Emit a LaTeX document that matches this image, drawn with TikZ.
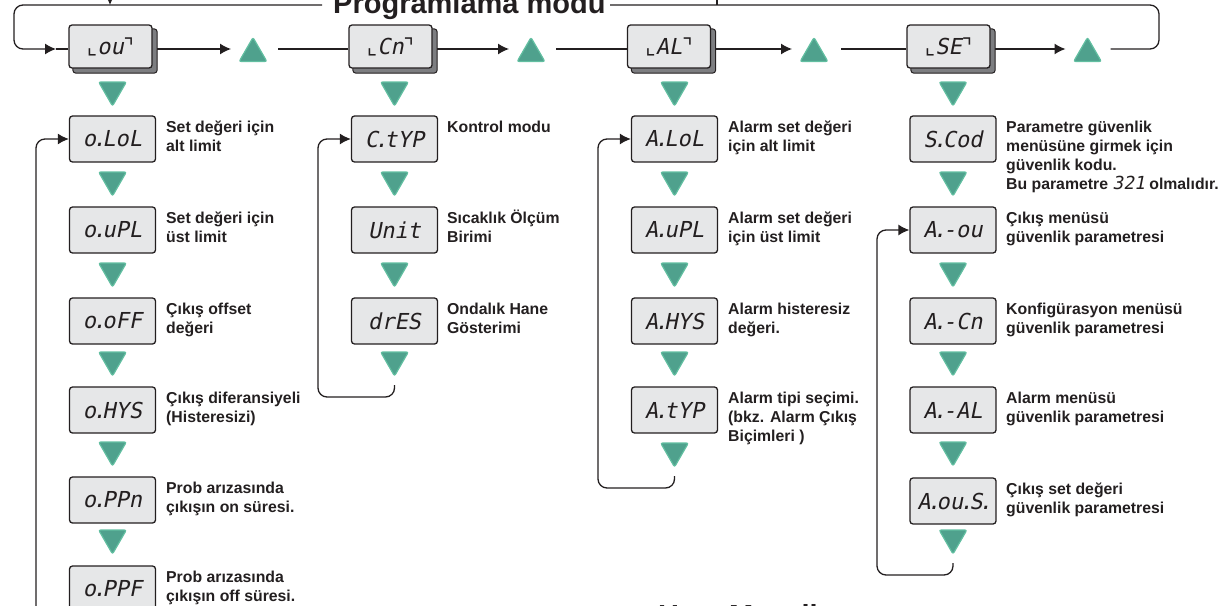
\documentclass[tikz,border=0pt]{standalone}
\usepackage{fontspec}
\setmainfont{Liberation Sans}
\newfontfamily\lcdfont[FakeSlant=0.2]{DejaVu Sans Mono}
\newfontfamily\djv{DejaVu Sans}
\usetikzlibrary{arrows.meta,shapes.geometric,backgrounds}
\definecolor{ink}{HTML}{231F20}
\definecolor{boxfill}{HTML}{E6E7E8}
\definecolor{tealfill}{HTML}{4FA18D}
\definecolor{tealedge}{HTML}{62BFA1}
\definecolor{shade}{HTML}{7D7E81}
\newcommand\lcddot{\kern-3.6pt.\kern-3.6pt}
\newcommand\dl[1]{\begin{tabular}[t]{@{}l@{}}#1\end{tabular}}
\begin{document}
\begin{tikzpicture}[x=1pt,y=-1pt,
  lcdbox/.style={draw=ink, fill=boxfill, line width=1.3pt, rounded corners=3pt,
    minimum width=86pt, minimum height=46pt, inner sep=0pt,
    font=\lcdfont\fontsize{22}{22}\selectfont, text=ink},
  topbox/.style={lcdbox, minimum width=83pt, minimum height=43pt},
  shadowbox/.style={draw=ink, fill=shade, line width=1pt, rounded corners=3pt},
  desc/.style={anchor=base west, inner sep=0pt, text=ink,
    font=\bfseries\fontsize{15.8}{19}\selectfont},
  heading/.style={anchor=base west, inner sep=0pt, text=ink,
    font=\bfseries\fontsize{29}{30}\selectfont},
  tri/.style={regular polygon, regular polygon sides=3, minimum size=32pt,
    inner sep=0pt, fill=tealfill, draw=tealedge, line width=1.2pt, rounded corners=2pt},
  tridown/.style={tri, shape border rotate=180},
  conn/.style={draw=ink, line width=1.3pt, rounded corners=9pt},
  arr/.style={conn, -{Latex[length=11pt,width=11pt]}},
]
\useasboundingbox (0,0) rectangle (1223,605);

% ---------- headings ----------
\node[heading] (title) at (333,13) {Programlama modu};
\node[heading] (hata) at (658,625) {Hata Mesajları};

% ---------- top row ----------
\node[topbox] (mou) at (110.5,46.5) {{\djv ⌞}ou{\djv ⌝}};
\node[topbox] (mcn) at (390.5,46.5) {{\djv ⌞}Cn{\djv ⌝}};
\node[topbox] (mal) at (669,46.5) {{\djv ⌞}AL{\djv ⌝}};
\node[topbox] (mse) at (948.5,46.5) {{\djv ⌞}SE{\djv ⌝}};
\begin{scope}[on background layer]
  \foreach \n in {mou,mcn,mal,mse}
    \draw[shadowbox] ([shift={(4.5pt,-4.5pt)}]\n.south west) rectangle ([shift={(4.5pt,-4.5pt)}]\n.north east);
\end{scope}

\node[tri] (u1) at (253,53.5) {};
\node[tri] (u2) at (531,53.5) {};
\node[tri] (u3) at (814,53.5) {};
\node[tri] (u4) at (1087.5,53.5) {};

\draw[arr] ([xshift=4.5pt,yshift=-2.5pt]mou.east) -- ([xshift=-22pt,yshift=4.5pt]u1.center);
\draw[conn] ([xshift=25pt,yshift=4.5pt]u1.center) -- ([yshift=-2.5pt]mcn.west);
\draw[arr] ([xshift=4.5pt,yshift=-2.5pt]mcn.east) -- ([xshift=-22pt,yshift=4.5pt]u2.center);
\draw[conn] ([xshift=25pt,yshift=4.5pt]u2.center) -- ([yshift=-2.5pt]mal.west);
\draw[arr] ([xshift=4.5pt,yshift=-2.5pt]mal.east) -- ([xshift=-22pt,yshift=4.5pt]u3.center);
\draw[conn] ([xshift=27pt,yshift=4.5pt]u3.center) -- ([yshift=-2.5pt]mse.west);
\draw[arr] ([xshift=4.5pt,yshift=-2.5pt]mse.east) -- ([xshift=-22pt,yshift=4.5pt]u4.center);

\coordinate (ttlR) at (610,5);
\coordinate (ttlL) at (322,5);
\coordinate (inA) at (56,49);
\draw[conn] ([xshift=23pt,yshift=4.5pt]u4.center) -- (1159,49) -- (1159,5) -- (ttlR);
\draw[arr] (ttlL) -- (14,5) -- (14,49) -- (inA);
\draw[conn] (inA) -- ([yshift=-2.5pt]mou.west);
\coordinate (tickA) at (110,-8);
\coordinate (tickB) at (717,-3);
\draw[draw=ink, line width=1.3pt, -{Latex[length=9pt,width=9pt]}] (tickA) -- (110,5);
\draw[draw=ink, line width=1.3pt] (tickB) -- (717,5);

% ---------- column 1 ----------
\node[tridown] (d10) at (112.5,90) {};
\node[lcdbox] (ol) at (112.5,139) {o\lcddot LoL};
\node[tridown] (d11) at (112.5,180) {};
\node[lcdbox] (ou) at (112.5,230) {o\lcddot uPL};
\node[tridown] (d12) at (112.5,271) {};
\node[lcdbox] (oo) at (112.5,321) {o\lcddot oFF};
\node[tridown] (d13) at (112.5,360) {};
\node[lcdbox] (oh) at (112.5,410) {o\lcddot HYS};
\node[tridown] (d14) at (112.5,450) {};
\node[lcdbox] (on) at (112.5,500) {o\lcddot PPn};
\node[tridown] (d15) at (112.5,538) {};
\node[lcdbox] (of) at (112.5,589) {o\lcddot PPF};

\node[desc] (tol) at (166,132) {\dl{Set değeri için\\alt limit}};
\node[desc] (tou) at (166,223) {\dl{Set değeri için\\üst limit}};
\node[desc] (too) at (166,314) {\dl{Çıkış offset\\değeri}};
\node[desc] (toh) at (166,403) {\dl{Çıkış diferansiyeli\\(Histeresizi)}};
\node[desc] (ton) at (166,493) {\dl{Prob arızasında\\çıkışın on süresi.}};
\node[desc] (tof) at (166,582) {\dl{Prob arızasında\\çıkışın off süresi.}};

\coordinate (l1) at (36,615);
\draw[arr] (l1) -- (36,139) -- (ol.west);

% ---------- column 2 ----------
\node[tridown] (d20) at (394.5,90) {};
\node[lcdbox] (ct) at (394.5,139) {C\lcddot tYP};
\node[tridown] (d21) at (394.5,180) {};
\node[lcdbox] (un) at (394.5,230) {Unit};
\node[tridown] (d22) at (394.5,271) {};
\node[lcdbox] (dr) at (394.5,321) {drES};
\node[tridown] (d23) at (394.5,360) {};

\node[desc] (tct) at (447,132) {\dl{Kontrol modu}};
\node[desc] (tun) at (447,223) {\dl{Sıcaklık Ölçüm\\Birimi}};
\node[desc] (tdr) at (447,314) {\dl{Ondalık Hane\\Gösterimi}};

\draw[arr] ([yshift=-8pt]d23.corner 1) -- (394.5,397) -- (318,397) -- (318,139) -- (ct.west);

% ---------- column 3 ----------
\node[tridown] (d30) at (674.5,90) {};
\node[lcdbox] (al) at (674.5,139) {A\lcddot LoL};
\node[tridown] (d31) at (674.5,180) {};
\node[lcdbox] (au) at (674.5,230) {A\lcddot uPL};
\node[tridown] (d32) at (674.5,271) {};
\node[lcdbox] (ah) at (674.5,321) {A\lcddot HYS};
\node[tridown] (d33) at (674.5,360) {};
\node[lcdbox] (at) at (674.5,410) {A\lcddot tYP};
\node[tridown] (d34) at (674.5,451) {};

\node[desc] (tal) at (728,132) {\dl{Alarm set değeri\\için alt limit}};
\node[desc] (tau) at (728,223) {\dl{Alarm set değeri\\için üst limit}};
\node[desc] (tah) at (728,314) {\dl{Alarm histeresiz\\değeri.}};
\node[desc] (tat) at (728,403) {\dl{Alarm tipi seçimi.\\(bkz. Alarm Çıkış\\Biçimleri )}};

\draw[arr] ([yshift=-8pt]d34.corner 1) -- (674.5,488) -- (598,488) -- (598,139) -- (al.west);

% ---------- column 4 ----------
\node[tridown] (d40) at (953,90) {};
\node[lcdbox] (sc) at (953,139) {S\lcddot Cod};
\node[tridown] (d41) at (953,180) {};
\node[lcdbox] (ao) at (953,230) {A\lcddot -ou};
\node[tridown] (d42) at (953,271) {};
\node[lcdbox] (ac) at (953,321) {A\lcddot -Cn};
\node[tridown] (d43) at (953,360) {};
\node[lcdbox] (aa) at (953,410) {A\lcddot -AL};
\node[tridown] (d44) at (953,450) {};
\node[lcdbox] (as) at (953,501) {A\lcddot ou\lcddot S\lcddot};
\node[tridown] (d45) at (953,538) {};

\node[desc] (tsc) at (1006,132) {\dl{Parametre güvenlik\\menüsüne girmek için\\güvenlik kodu.\\Bu parametre {\lcdfont\mdseries\fontsize{18}{19}\selectfont 321} olmalıdır.}};
\node[desc] (tao) at (1006,223) {\dl{Çıkış menüsü\\güvenlik parametresi}};
\node[desc] (tac) at (1006,314) {\dl{Konfigürasyon menüsü\\güvenlik parametresi}};
\node[desc] (taa) at (1006,403) {\dl{Alarm menüsü\\güvenlik parametresi}};
\node[desc] (tas) at (1006,494) {\dl{Çıkış set değeri\\güvenlik parametresi}};

\draw[arr] ([yshift=-8pt]d45.corner 1) -- (953,575) -- (877,575) -- (877,230) -- (ao.west);
\end{tikzpicture}
\end{document}
